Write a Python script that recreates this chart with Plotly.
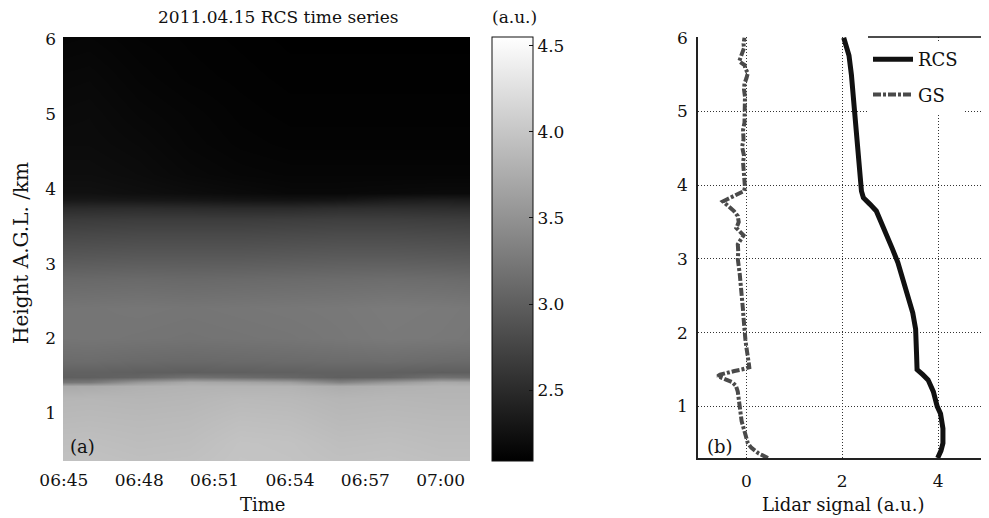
import plotly.graph_objects as go

# page is rendered with an 8 px body margin, so the figure is offset by 8 px
OFF = 8
W, H = 989 - OFF, 518 - OFF
FONT = "DejaVu Serif"

# ---------------- data ----------------
day = "2011-04-15 "
hm_times = ["06:44", "06:46", "06:48", "06:50", "06:52", "06:54", "06:56", "06:58", "07:00", "07:02"]
hm_heights = [0.30, 0.60, 0.90, 1.20, 1.36, 1.42, 1.48, 1.55, 1.70, 2.00, 2.40, 2.80,
              3.10, 3.40, 3.60, 3.75, 3.85, 3.95, 4.20, 4.60, 5.00, 5.50, 6.10]
hm_values = [
    [3.95, 3.96, 3.94, 3.95, 3.98, 3.97, 3.95, 3.96, 3.94, 3.94],
    [3.92, 3.93, 3.91, 3.92, 3.97, 3.96, 3.92, 3.93, 3.91, 3.91],
    [3.88, 3.89, 3.88, 3.89, 3.93, 3.92, 3.88, 3.89, 3.88, 3.88],
    [3.84, 3.85, 3.84, 3.85, 3.88, 3.87, 3.84, 3.85, 3.84, 3.84],
    [3.72, 3.74, 3.80, 3.82, 3.82, 3.82, 3.76, 3.80, 3.82, 3.82],
    [3.20, 3.25, 3.55, 3.72, 3.68, 3.62, 3.35, 3.55, 3.72, 3.68],
    [3.00, 3.01, 3.06, 3.18, 3.13, 3.08, 3.01, 3.04, 3.18, 3.13],
    [3.03, 3.03, 3.01, 3.00, 3.01, 3.02, 3.03, 3.02, 3.00, 3.01],
    [3.12, 3.13, 3.11, 3.10, 3.11, 3.12, 3.13, 3.14, 3.12, 3.11],
    [3.21, 3.22, 3.21, 3.20, 3.21, 3.22, 3.24, 3.26, 3.25, 3.23],
    [3.21, 3.22, 3.23, 3.22, 3.23, 3.24, 3.25, 3.27, 3.26, 3.24],
    [3.09, 3.10, 3.11, 3.10, 3.11, 3.12, 3.13, 3.14, 3.13, 3.11],
    [2.92, 2.93, 2.94, 2.94, 2.94, 2.95, 2.96, 2.96, 2.95, 2.94],
    [2.77, 2.78, 2.79, 2.79, 2.79, 2.80, 2.81, 2.81, 2.80, 2.79],
    [2.65, 2.66, 2.67, 2.67, 2.67, 2.68, 2.69, 2.69, 2.68, 2.67],
    [2.50, 2.51, 2.52, 2.51, 2.50, 2.50, 2.53, 2.54, 2.53, 2.52],
    [2.32, 2.33, 2.32, 2.31, 2.29, 2.28, 2.30, 2.36, 2.38, 2.36],
    [2.25, 2.25, 2.23, 2.21, 2.19, 2.17, 2.17, 2.18, 2.19, 2.19],
    [2.22, 2.22, 2.20, 2.17, 2.15, 2.14, 2.14, 2.14, 2.14, 2.14],
    [2.20, 2.20, 2.18, 2.15, 2.13, 2.12, 2.12, 2.12, 2.12, 2.12],
    [2.18, 2.19, 2.16, 2.14, 2.12, 2.11, 2.11, 2.11, 2.11, 2.11],
    [2.16, 2.17, 2.14, 2.12, 2.11, 2.10, 2.10, 2.10, 2.10, 2.10],
    [2.13, 2.14, 2.12, 2.11, 2.10, 2.09, 2.09, 2.09, 2.09, 2.09],
]
time_ticks = ["06:45", "06:48", "06:51", "06:54", "06:57", "07:00"]
cbar_ticks = [2.5, 3.0, 3.5, 4.0, 4.5]

rcs_heights = [0.30, 0.40, 0.50, 0.70, 0.90, 1.00, 1.20, 1.36, 1.43, 1.50, 1.70, 1.84,
               2.05, 2.27, 2.50, 2.73, 2.95, 3.13, 3.31, 3.49, 3.65, 3.74, 3.83, 3.92,
               4.00, 4.50, 5.00, 5.50, 5.76, 6.00]
rcs_values = [3.99, 4.06, 4.10, 4.10, 4.05, 3.98, 3.90, 3.79, 3.68, 3.56, 3.55, 3.54,
              3.53, 3.47, 3.37, 3.27, 3.16, 3.05, 2.93, 2.82, 2.71, 2.58, 2.44, 2.40,
              2.39, 2.32, 2.25, 2.19, 2.14, 2.03]

gs_heights = [0.30, 0.33, 0.36, 0.40, 0.44, 0.50, 0.57, 0.65, 0.72, 0.80, 0.90, 1.00,
              1.10, 1.20, 1.28, 1.33, 1.37, 1.41, 1.43, 1.46, 1.48, 1.50, 1.53, 1.58,
              1.65, 1.72, 1.80, 1.90, 2.00, 2.10, 2.20, 2.30, 2.40, 2.50, 2.60, 2.70,
              2.80, 2.90, 3.00, 3.10, 3.20, 3.28, 3.32, 3.36, 3.42, 3.50, 3.58, 3.65,
              3.70, 3.74, 3.78, 3.81, 3.84, 3.88, 3.92, 3.97, 4.05, 4.13, 4.20, 4.31,
              4.40, 4.52, 4.62, 4.75, 4.85, 5.00, 5.10, 5.20, 5.30, 5.38, 5.45, 5.52,
              5.58, 5.63, 5.68, 5.74, 5.80, 5.86, 5.92, 6.00]
gs_values = [0.45, 0.35, 0.26, 0.18, 0.10, 0.03, 0.00, -0.04, -0.06, -0.10, -0.12, -0.14,
             -0.15, -0.18, -0.22, -0.30, -0.45, -0.60, -0.55, -0.40, -0.25, -0.10, 0.06, 0.05,
             0.03, 0.01, 0.00, -0.02, -0.04, -0.05, -0.06, -0.07, -0.08, -0.09, -0.10, -0.12,
             -0.14, -0.16, -0.18, -0.17, -0.18, -0.10, -0.06, -0.12, -0.21, -0.16, -0.18, -0.26,
             -0.35, -0.44, -0.49, -0.40, -0.30, -0.14, -0.05, -0.03, -0.04, -0.04, -0.06, -0.07,
             -0.05, -0.09, -0.06, -0.07, -0.04, -0.04, -0.02, -0.03, -0.05, -0.04, 0.00, 0.03,
             -0.02, -0.04, -0.15, -0.12, -0.10, -0.05, -0.06, -0.04]
signal_ticks = [0, 2, 4]
height_ticks = [1, 2, 3, 4, 5, 6]


# ---------------- figure ----------------
def fx(p):  # page pixel -> paper fraction
    return (p - OFF) / W


def fy(p):
    return 1 - (p - OFF) / H


fig = go.Figure()

fig.add_trace(go.Heatmap(
    x=[day + t for t in hm_times], y=hm_heights, z=hm_values,
    zmin=2.09, zmax=4.55, zsmooth="best",
    colorscale=[[0, "#000000"], [1, "#ffffff"]],
    xaxis="x", yaxis="y", showlegend=False,
    colorbar=dict(
        x=fx(492), xanchor="left", xpad=0,
        y=fy(461), yanchor="bottom", ypad=0,
        len=(461 - 37) / H, lenmode="fraction",
        thickness=41, thicknessmode="pixels",
        outlinewidth=1, outlinecolor="#111",
        tickvals=cbar_ticks, ticktext=[f"{v:.1f}" for v in cbar_ticks],
        ticks="inside", ticklen=4, tickcolor="#111",
        tickfont=dict(family=FONT, size=17, color="#111"),
    ),
))

fig.add_trace(go.Scatter(
    x=rcs_values, y=rcs_heights, mode="lines", name="RCS",
    line=dict(color="#111111", width=5), xaxis="x2", yaxis="y2",
    legendgroup="a",
))
fig.add_trace(go.Scatter(
    x=gs_values, y=gs_heights, mode="lines", name="GS",
    line=dict(color="#4a4a4a", width=4, dash="8px,2px,3px,2px"), xaxis="x2", yaxis="y2",
    legendgroup="b",
))

tickfont = dict(family=FONT, size=17, color="#111")
fig.update_layout(
    width=W, height=H,
    margin=dict(l=0, r=0, t=0, b=0),
    paper_bgcolor="white", plot_bgcolor="white",
    font=dict(family=FONT, size=17, color="#111"),
    xaxis=dict(
        domain=[fx(63), fx(470)], type="date",
        range=[day + "06:44:58", day + "07:01:10"],
        tickvals=[day + t for t in time_ticks], ticktext=time_ticks,
        tickfont=tickfont, showgrid=False, zeroline=False, showline=False,
        ticks="", ticklabelstandoff=7, automargin=False,
    ),
    yaxis=dict(
        domain=[fy(461), fy(37)], range=[0.36, 6.03],
        tickvals=height_ticks, tickfont=tickfont,
        showgrid=False, zeroline=False, showline=False, ticks="",
        ticklabelstandoff=6, automargin=False,
    ),
    xaxis2=dict(
        domain=[fx(698), fx(988)], range=[-1.01, 5.04], anchor="y2",
        tickvals=signal_ticks, tickfont=tickfont,
        showgrid=True, gridcolor="#333", gridwidth=1, griddash="1px,2px",
        zeroline=False, showline=True, linecolor="#222", linewidth=1.5, mirror=False,
        ticks="", ticklabelstandoff=7, automargin=False,
    ),
    yaxis2=dict(
        domain=[fy(458), fy(37)], range=[0.30, 6.01], anchor="x2",
        tickvals=height_ticks, tickfont=tickfont,
        showgrid=True, gridcolor="#333", gridwidth=1, griddash="1px,2px",
        zeroline=False, showline=True, linecolor="#222", linewidth=1.5, mirror=True,
        ticks="", ticklabelstandoff=5, automargin=False,
    ),
    legend=dict(
        x=fx(868), xanchor="left", y=fy(41), yanchor="top",
        bgcolor="white", borderwidth=0,
        font=dict(family=FONT, size=18, color="#111"),
        tracegroupgap=9, traceorder="grouped", itemwidth=40,
    ),
    showlegend=True,
)

fig.add_shape(type="line", xref="paper", yref="paper",
              x0=fx(868), x1=1, y0=fy(37), y1=fy(37),
              line=dict(color="#111", width=1.5), layer="above")


def ann(text, x, y, size=17, angle=0):
    fig.add_annotation(text=text, x=fx(x), y=fy(y), xref="paper", yref="paper",
                       showarrow=False, xanchor="center", yanchor="middle",
                       textangle=angle, font=dict(family=FONT, size=size, color="#111"))


ann("2011.04.15 RCS time series", 278, 17, 17)
ann("(a.u.)", 514, 17, 17)
ann("Time", 263, 504, 18)
ann("Height A.G.L. /km", 21, 253, 20, -90)
ann("Lidar signal (a.u.)", 843, 504, 18)
ann("(a)", 82, 446, 18)
ann("(b)", 720, 446, 18)

fig.write_html("out.html")
